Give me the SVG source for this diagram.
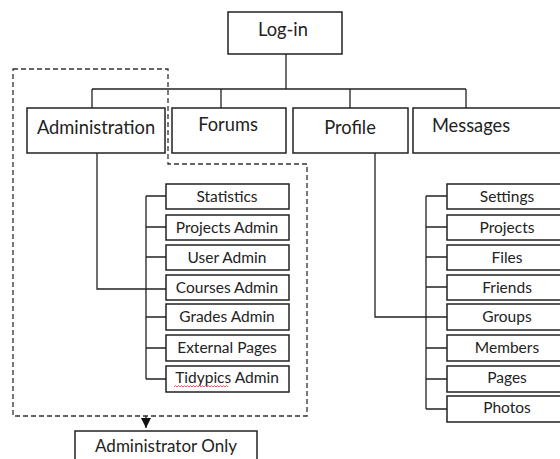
<svg xmlns="http://www.w3.org/2000/svg" width="560" height="459" viewBox="0 0 560 459">
<defs>
<style>
.box{fill:#fff;stroke:#222;stroke-width:1.5}
.ln{fill:none;stroke:#222;stroke-width:1.3}
.t{font-family:Lato,"Open Sans","Liberation Sans",sans-serif;fill:#222;text-anchor:middle}
.big{font-size:18.3px}
.sm{font-size:15.5px}
</style>
<marker id="ah" viewBox="0 0 10 10" refX="10" refY="5" markerWidth="10" markerHeight="10" markerUnits="userSpaceOnUse" orient="auto">
<path d="M0,0 L10,5 L0,10 Z" fill="#111"/>
</marker>
</defs>
<rect width="560" height="459" fill="#fff"/>
<g id="connectors">
<path class="ln" d="M286,54 V89 M92,89 H466 M92,89 V108 M221,89 V108 M350,89 V108 M466,89 V108"/>
<path class="ln" d="M97,153 V289 H166"/>
<path class="ln" d="M146,196 V379 M146,196 H166 M146,227 H166 M146,257 H166 M146,317 H166 M146,348 H166 M146,379 H166"/>
<path class="ln" d="M375,153 V317 H447"/>
<path class="ln" d="M426,196 V409 M426,196 H447 M426,227 H447 M426,257 H447 M426,287 H447 M426,348 H447 M426,379 H447 M426,409 H447"/>
<path d="M13,69 H168 V164 H307 V416 H13 Z" fill="none" stroke="#333" stroke-width="1.3" stroke-dasharray="5,3"/>
<line class="ln" x1="146" y1="416" x2="146" y2="428" marker-end="url(#ah)"/>
</g>
<g id="login"><rect class="box" x="228" y="12" width="114" height="42"/><text class="t big" x="283" y="36">Log-in</text></g>
<g id="administration"><rect class="box" x="27" y="108" width="138" height="45"/><text class="t big" x="96" y="134">Administration</text></g>
<g id="forums"><rect class="box" x="172" y="108" width="114" height="45"/><text class="t big" x="228" y="131">Forums</text></g>
<g id="profile"><rect class="box" x="293" y="108" width="115" height="45"/><text class="t big" x="350" y="134">Profile</text></g>
<g id="messages"><rect class="box" x="413" y="108" width="160" height="45"/><text class="t big" x="471" y="132">Messages</text></g>
<g id="statistics"><rect class="box" x="166" y="184" width="123" height="25"/><text class="t sm" x="227" y="202">Statistics</text></g>
<g id="projects-admin"><rect class="box" x="166" y="215" width="123" height="25"/><text class="t sm" x="227" y="233">Projects Admin</text></g>
<g id="user-admin"><rect class="box" x="166" y="245" width="123" height="25"/><text class="t sm" x="227" y="263">User Admin</text></g>
<g id="courses-admin"><rect class="box" x="166" y="275" width="123" height="25"/><text class="t sm" x="227" y="293">Courses Admin</text></g>
<g id="grades-admin"><rect class="box" x="166" y="304" width="123" height="26"/><text class="t sm" x="227" y="322">Grades Admin</text></g>
<g id="external-pages"><rect class="box" x="166" y="335" width="123" height="26"/><text class="t sm" x="227" y="353">External Pages</text></g>
<g id="tidypics-admin"><rect class="box" x="166" y="366" width="123" height="26"/><text class="t sm" x="227" y="383">Tidypics Admin</text>
<path d="M174,387 l1.5,-1.5 l1.5,1.5 l1.5,-1.5 l1.5,1.5 l1.5,-1.5 l1.5,1.5 l1.5,-1.5 l1.5,1.5 l1.5,-1.5 l1.5,1.5 l1.5,-1.5 l1.5,1.5 l1.5,-1.5 l1.5,1.5 l1.5,-1.5 l1.5,1.5 l1.5,-1.5 l1.5,1.5 l1.5,-1.5 l1.5,1.5 l1.5,-1.5 l1.5,1.5 l1.5,-1.5 l1.5,1.5 l1.5,-1.5 l1.5,1.5 l1.5,-1.5 l1.5,1.5 l1.5,-1.5 l1.5,1.5 l1.5,-1.5 l1.5,1.5 l1.5,-1.5 l1.5,1.5 l1.5,-1.5 l1.5,1.5" fill="none" stroke="#e33" stroke-width="0.8"/></g>
<g id="settings"><rect class="box" x="447" y="184" width="120" height="25"/><text class="t sm" x="507" y="202">Settings</text></g>
<g id="projects"><rect class="box" x="447" y="215" width="120" height="25"/><text class="t sm" x="507" y="233">Projects</text></g>
<g id="files"><rect class="box" x="447" y="245" width="120" height="25"/><text class="t sm" x="507" y="263">Files</text></g>
<g id="friends"><rect class="box" x="447" y="275" width="120" height="25"/><text class="t sm" x="507" y="293">Friends</text></g>
<g id="groups"><rect class="box" x="447" y="304" width="120" height="26"/><text class="t sm" x="507" y="322">Groups</text></g>
<g id="members"><rect class="box" x="447" y="335" width="120" height="26"/><text class="t sm" x="507" y="353">Members</text></g>
<g id="pages"><rect class="box" x="447" y="366" width="120" height="26"/><text class="t sm" x="507" y="383">Pages</text></g>
<g id="photos"><rect class="box" x="447" y="396" width="120" height="26"/><text class="t sm" x="507" y="413">Photos</text></g>
<g id="administrator-only"><rect class="box" x="75" y="431" width="182" height="40"/><text class="t" style="font-size:17px" x="166" y="452">Administrator Only</text></g>
</svg>
